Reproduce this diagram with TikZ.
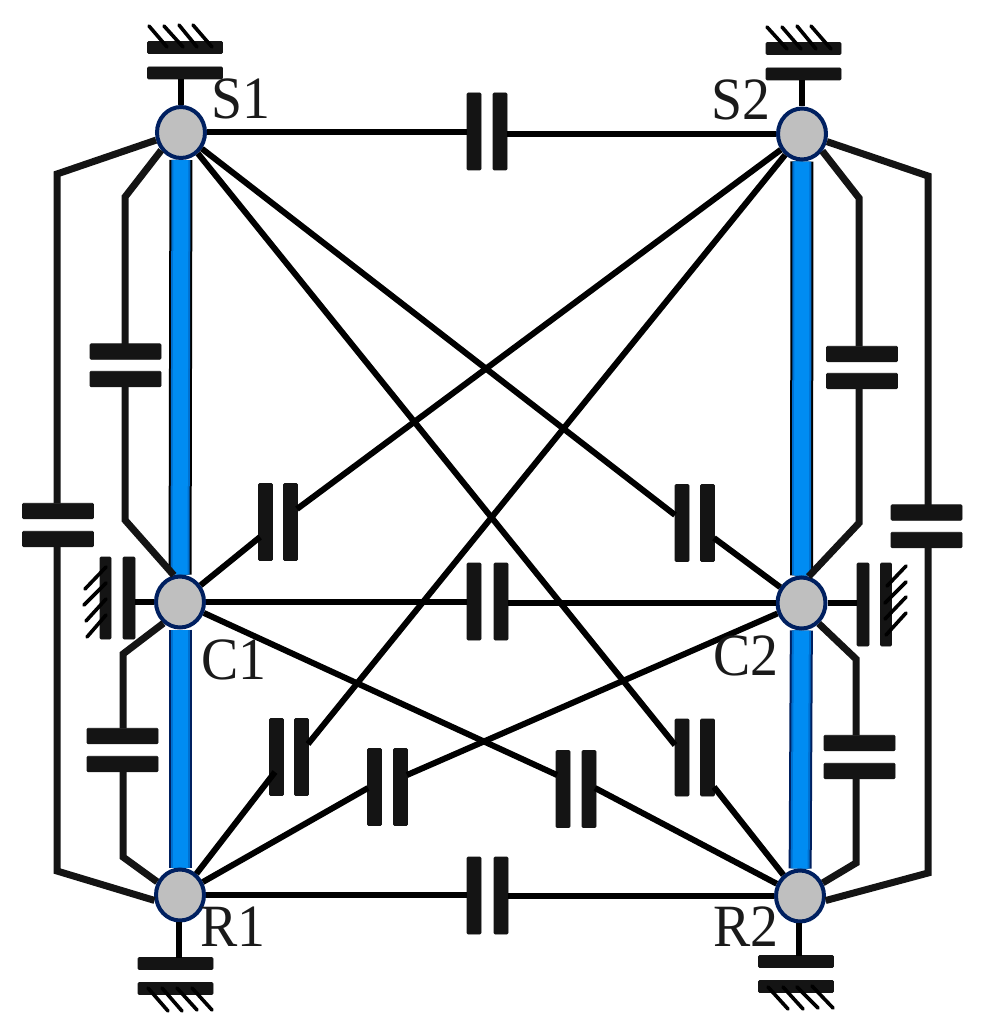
\documentclass[tikz,border=0pt]{standalone}
\usepackage{fontspec}
\setmainfont{Liberation Serif}
\usetikzlibrary{shapes.geometric}
\pgfdeclarelayer{bars}
\pgfsetlayers{bars,main}
\definecolor{nodefill}{HTML}{BFBFBF}
\definecolor{nodeedge}{HTML}{002060}
\definecolor{barblue}{HTML}{008CF2}
\definecolor{barmid}{HTML}{0070D0}
\definecolor{plateblack}{HTML}{141414}
\definecolor{inktext}{HTML}{1A1A1A}
\tikzset{
  joint/.style={ellipse,draw=nodeedge,fill=nodefill,line width=4pt,minimum width=48pt,minimum height=51pt,inner sep=0pt},
  plate/.style={rectangle,fill=plateblack,draw=plateblack,line width=.6pt,rounded corners=1pt,inner sep=0pt,outer sep=0pt},
  vplate/.style={plate,minimum width=14pt,minimum height=77pt},
  hplate/.style={plate,minimum width=71pt,minimum height=15.5pt},
  gplate/.style={plate,minimum width=75pt,minimum height=12pt},
  wire/.style={draw=black,line width=6pt,line join=miter},
  thickwire/.style={draw=plateblack,line width=7pt,line join=miter},
  hatch/.style={draw=black,line width=3.6pt,line cap=round},
  lbl/.style={font=\fontsize{60}{62}\selectfont,text=inktext,inner sep=0pt,xscale=.93}
}
\newcommand{\barlink}[3]{%
  \draw[line width=23pt,#3] (#1) -- (#2);
  \draw[line width=19pt,barmid] (#1) -- (#2);
  \draw[line width=15pt,barblue] (#1) -- (#2);
}
\begin{document}
\begin{tikzpicture}[x=1pt,y=-1pt]
\useasboundingbox (0,0) rectangle (987,1035);
% joints
\node[joint] (S1) at (181,132.5) {};
\node[joint] (S2) at (802,134) {};
\node[joint] (C1) at (180,602) {};
\node[joint] (C2) at (801.5,603) {};
\node[joint] (R1) at (180,895) {};
\node[joint] (R2) at (800,896) {};
% carrier bars
\begin{pgfonlayer}{bars}
\barlink{S1}{C1}{black}
\barlink{S2}{C2}{black}
\barlink{C1}{R1}{nodeedge}
\barlink{C2}{R2}{nodeedge}
\end{pgfonlayer}
% ground brakes
\node[gplate] (gS1a) at (185,47.5) {};
\node[gplate] (gS1b) at (185,73) {};
\node[gplate] (gS2a) at (803.5,48.5) {};
\node[gplate] (gS2b) at (803.5,74) {};
\node[gplate] (gR1a) at (175.5,963.5) {};
\node[gplate] (gR1b) at (175.5,988.5) {};
\node[gplate] (gR2a) at (796,961.5) {};
\node[gplate] (gR2b) at (796,986.5) {};
\node[plate,minimum width=11pt,minimum height=82pt] (gC1a) at (105.5,598) {};
\node[plate,minimum width=12pt,minimum height=82pt] (gC1b) at (129,598) {};
\node[plate,minimum width=12pt,minimum height=83pt] (gC2a) at (863,604.5) {};
\node[plate,minimum width=11pt,minimum height=83pt] (gC2b) at (886,604.5) {};
\draw[wire] (S1) -- (S1|-gS1b.south);
\draw[wire] (S2) -- (S2|-gS2b.south);
\draw[wire] (R1.268) -- (R1.268|-gR1a.north);
\draw[wire] (R2.268) -- (R2.268|-gR2a.north);
\draw[wire] (C1) -- (gC1b.east|-C1);
\draw[wire] (C2) -- (gC2a.west|-C2);
% hatching
\foreach \a/\b/\c/\d in {149/26/167/47,164/26/183/47,179/25/197/47,193/25/212/47,
  767/27/787/49,782/27/801/49,797/26/816/49,811/26/831/49,
  148/988/168/1011,162/988/182/1011,177/988/197/1010,192/988/212/1010,
  768/987/788/1009,783/987/803/1009,797/987/818/1008,812/986/833/1008,
  85/589/106/567,84/605/106/583,86/621/106/599,87/637/106/615,
  887/586/906/566,885/603/906/582,885/619/906/597,886/635/906/613}
  \draw[hatch] (\a,\b) -- (\c,\d);
% horizontal row capacitors
\node[vplate] (kTa) at (474,131.5) {};
\node[vplate] (kTb) at (500,131.5) {};
\node[vplate] (kMa) at (474,601.5) {};
\node[vplate] (kMb) at (501,601.5) {};
\node[vplate] (kBa) at (474,895.5) {};
\node[vplate] (kBb) at (501,895.5) {};
\draw[wire] (S1) -- (kTa.west|-S1);
\draw[wire] (S2) -- (kTb.east|-S2);
\draw[wire] (C1) -- (kMa.west|-C1);
\draw[wire] (C2) -- (kMb.east|-C2);
\draw[wire] (R1) -- (kBa.west|-R1);
\draw[wire] (R2) -- (kBb.east|-R2);
% outer and inner side capacitors
\node[hplate] (oLa) at (58,511) {};
\node[hplate] (oLb) at (58,539) {};
\node[hplate] (iLa) at (125.5,351.5) {};
\node[hplate] (iLb) at (125.5,379) {};
\node[hplate] (jLa) at (122.5,736) {};
\node[hplate] (jLb) at (122.5,764) {};
\node[hplate] (oRa) at (926.5,512.5) {};
\node[hplate] (oRb) at (926.5,540) {};
\node[hplate] (iRa) at (862,354) {};
\node[hplate] (iRb) at (862,381) {};
\node[hplate] (jRa) at (859.5,743) {};
\node[hplate] (jRb) at (859.5,771) {};
\coordinate (oL1) at (57,174);
\coordinate (oL2) at (57,871);
\coordinate (iL1) at (125,197);
\coordinate (iL2) at (125,520);
\coordinate (jL1) at (123,654);
\coordinate (jL2) at (123,857);
\coordinate (oR1) at (928,176);
\coordinate (oR2) at (928,873);
\coordinate (iR1) at (859,198);
\coordinate (iR2) at (859,523);
\coordinate (jR1) at (856,659);
\coordinate (jR2) at (856,863);
\draw[thickwire] (S1.197) -- (oL1) -- (oL1|-oLa.north);
\draw[thickwire] (oL2|-oLb.south) -- (oL2) -- (R1.192);
\draw[thickwire] (S1.222) -- (iL1) -- (iL1|-iLa.north);
\draw[thickwire] (iL2|-iLb.south) -- (iL2) -- (C1.103);
\draw[thickwire] (C1.232) -- (jL1) -- (jL1|-jLa.north);
\draw[thickwire] (jL2|-jLb.south) -- (jL2) -- (R1.150);
\draw[thickwire] (S2.-17) -- (oR1) -- (oR1|-oRa.north);
\draw[thickwire] (oR2|-oRb.south) -- (oR2) -- (R2.-10);
\draw[thickwire] (S2.-40) -- (iR1) -- (iR1|-iRa.north);
\draw[thickwire] (iR2|-iRb.south) -- (iR2) -- (C2.75);
\draw[thickwire] (C2.-50) -- (jR1) -- (jR1|-jRa.north);
\draw[thickwire] (jR2|-jRb.south) -- (jR2) -- (R2.30);
% diagonal capacitors
\node[vplate] (dAa) at (265.5,522) {};
\node[vplate] (dAb) at (290.5,522) {};
\node[vplate] (dBa) at (682,523) {};
\node[vplate] (dBb) at (707.5,523) {};
\node[vplate] (dCa) at (276.5,757) {};
\node[vplate] (dCb) at (301.5,757) {};
\node[vplate] (dDa) at (682,757.5) {};
\node[vplate] (dDb) at (707.5,757.5) {};
\node[vplate] (dEa) at (374.5,787) {};
\node[vplate] (dEb) at (400.5,787) {};
\node[vplate] (dFa) at (563,789) {};
\node[vplate] (dFb) at (589,789) {};
\coordinate (eA1) at (260,537);
\coordinate (eA2) at (297,509);
\coordinate (eB1) at (675,515);
\coordinate (eB2) at (714,538);
\coordinate (eC1) at (275,772);
\coordinate (eC2) at (308,744);
\coordinate (eD1) at (675,745);
\coordinate (eD2) at (714,787);
\coordinate (eE1) at (368,788);
\coordinate (eE2) at (407,775);
\coordinate (eF1) at (557,775);
\coordinate (eF2) at (595,788);
\draw[wire] (C1) -- (eA1);
\draw[wire] (eA2) -- (S2);
\draw[wire] (S1) -- (eB1);
\draw[wire] (eB2) -- (C2);
\draw[wire] (R1) -- (eC1);
\draw[wire] (eC2) -- (S2);
\draw[wire] (S1) -- (eD1);
\draw[wire] (eD2) -- (R2);
\draw[wire] (R1) -- (eE1);
\draw[wire] (eE2) -- (C2);
\draw[wire] (C1) -- (eF1);
\draw[wire] (eF2) -- (R2);
% labels
\node[lbl] (tS1) at (241,99) {S1};
\node[lbl] (tS2) at (741,100) {S2};
\node[lbl] (tC1) at (234,660) {C1};
\node[lbl] (tC2) at (746,656) {C2};
\node[lbl] (tR1) at (233,927) {R1};
\node[lbl] (tR2) at (746,927) {R2};
\end{tikzpicture}
\end{document}
